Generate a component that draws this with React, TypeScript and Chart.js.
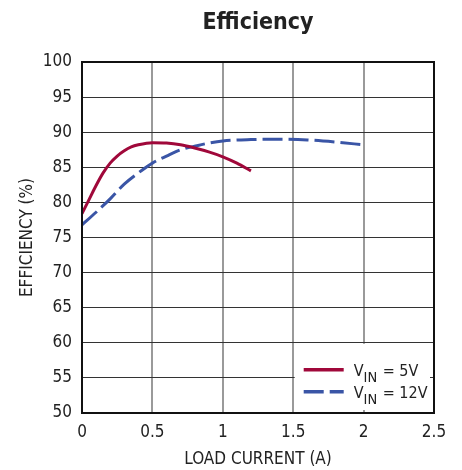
import React, { useEffect, useRef } from "react";
import { Chart, registerables } from "chart.js";

Chart.register(...registerables);

const chartTitle = "Efficiency";
const xTitle = "LOAD CURRENT (A)";
const yTitle = "EFFICIENCY (%)";

const current5V = [0, 0.05, 0.1, 0.15, 0.2, 0.25, 0.3, 0.35, 0.4, 0.5, 0.6, 0.7, 0.8, 0.9, 1.0, 1.1, 1.2];
const eff5V = [78.4, 80.4, 82.4, 84.2, 85.6, 86.6, 87.35, 87.9, 88.2, 88.5, 88.45, 88.2, 87.75, 87.2, 86.5, 85.6, 84.5];

const current12V = [0, 0.1, 0.2, 0.3, 0.4, 0.5, 0.6, 0.7, 0.8, 0.9, 1.0, 1.2, 1.4, 1.6, 1.8, 2.0];
const eff12V = [76.8, 78.6, 80.5, 82.6, 84.2, 85.6, 86.6, 87.5, 88.0, 88.45, 88.75, 88.95, 89.0, 88.9, 88.6, 88.2];

const seriesLabels = ["V_IN = 5V", "V_IN = 12V"];
const seriesColors = ["#A0083A", "#3A55A6"];

const FONT = "'DejaVu Sans Condensed', 'Liberation Sans Narrow', sans-serif";
const TEXT = "#222";

const overlayPlugin = {
  id: "overlay",
  afterDraw(chart: any) {
    const { ctx, chartArea } = chart;
    const { left, right, top, bottom } = chartArea;
    ctx.save();
    // frame
    ctx.strokeStyle = "#111";
    ctx.lineWidth = 2;
    ctx.strokeRect(left, top, right - left, bottom - top);
    // title
    ctx.fillStyle = TEXT;
    ctx.font = `bold 23px ${FONT}`;
    ctx.textAlign = "center";
    ctx.textBaseline = "alphabetic";
    ctx.fillText(chartTitle, (left + right) / 2, 29);
    // legend box
    const xs = chart.scales.x;
    const ys = chart.scales.y;
    const bx0 = xs.getPixelForValue(1.5) + 1.5;
    const by0 = ys.getPixelForValue(60) + 1;
    const bx1 = right - 4;
    const by1 = bottom - 3;
    ctx.fillStyle = "#fff";
    ctx.fillRect(bx0, by0, bx1 - bx0, by1 - by0);
    chart.data.datasets.forEach((ds: any, i: number) => {
      const cy = by0 + 26 + i * 22;
      ctx.strokeStyle = ds.borderColor;
      ctx.lineWidth = 3.5;
      ctx.setLineDash(ds.borderDash || []);
      ctx.beginPath();
      ctx.moveTo(bx0 + 9, cy);
      ctx.lineTo(bx0 + 49, cy);
      ctx.stroke();
      ctx.setLineDash([]);
      const m = /^(.*?)_(\w+)(.*)$/.exec(ds.label) || [ds.label, ds.label, "", ""];
      let tx = bx0 + 59;
      const base = cy + 6;
      ctx.fillStyle = TEXT;
      ctx.textAlign = "left";
      ctx.textBaseline = "alphabetic";
      ctx.font = `16px ${FONT}`;
      ctx.fillText(m[1], tx, base);
      tx += ctx.measureText(m[1]).width;
      ctx.font = `14.5px ${FONT}`;
      ctx.fillText(m[2], tx, base + 6);
      tx += ctx.measureText(m[2]).width + 1;
      ctx.font = `16px ${FONT}`;
      ctx.fillText(m[3], tx, base);
    });
    ctx.restore();
  },
};

export default function App() {
  const ref = useRef<HTMLCanvasElement | null>(null);
  useEffect(() => {
    document.body.style.margin = "0";
    const canvas = ref.current!;
    const chart = new Chart(canvas, {
      type: "line",
      data: {
        datasets: [
          {
            label: seriesLabels[0],
            data: current5V.map((x, i) => ({ x, y: eff5V[i] })),
            borderColor: seriesColors[0],
            backgroundColor: seriesColors[0],
            borderWidth: 3,
            pointRadius: 0,
            cubicInterpolationMode: "monotone",
            fill: false,
          },
          {
            label: seriesLabels[1],
            data: current12V.map((x, i) => ({ x, y: eff12V[i] })),
            borderColor: seriesColors[1],
            backgroundColor: seriesColors[1],
            borderWidth: 3,
            borderDash: [20, 6],
            pointRadius: 0,
            cubicInterpolationMode: "monotone",
            fill: false,
          },
        ],
      },
      options: {
        animation: false,
        responsive: false,
        maintainAspectRatio: false,
        layout: { padding: { top: 62, right: 28, left: 0, bottom: 0 } },
        plugins: {
          legend: { display: false },
          title: { display: false },
          tooltip: { enabled: false },
        },
        scales: {
          x: {
            type: "linear",
            min: 0,
            max: 2.5,
            ticks: {
              stepSize: 0.5,
              padding: 9,
              color: TEXT,
              font: { family: FONT, size: 17 },
              maxRotation: 0,
              callback: (v: any) => String(+Number(v).toFixed(2)),
            },
            grid: { color: "#9a9a9a", lineWidth: 2, drawTicks: false },
            border: { display: false },
            title: {
              display: true,
              text: xTitle,
              color: TEXT,
              font: { family: FONT, size: 17 },
              padding: { top: 0, bottom: 0 },
            },
            afterFit: (s: any) => {
              s.height = 57;
            },
          },
          y: {
            type: "linear",
            min: 50,
            max: 100,
            ticks: {
              stepSize: 5,
              padding: 10,
              color: TEXT,
              font: { family: FONT, size: 17 },
            },
            grid: { color: "#333", lineWidth: 1, drawTicks: false },
            border: { display: false },
            title: {
              display: true,
              text: yTitle,
              color: TEXT,
              font: { family: FONT, size: 17 },
              padding: { top: 17, bottom: 0 },
            },
            afterFit: (s: any) => {
              s.width = 82;
            },
          },
        },
      },
      plugins: [overlayPlugin],
    } as any);
    return () => chart.destroy();
  }, []);
  return (
    <div style={{ width: 462, height: 470 }}>
      <canvas ref={ref} width={462} height={470} style={{ display: "block" }} />
    </div>
  );
}
